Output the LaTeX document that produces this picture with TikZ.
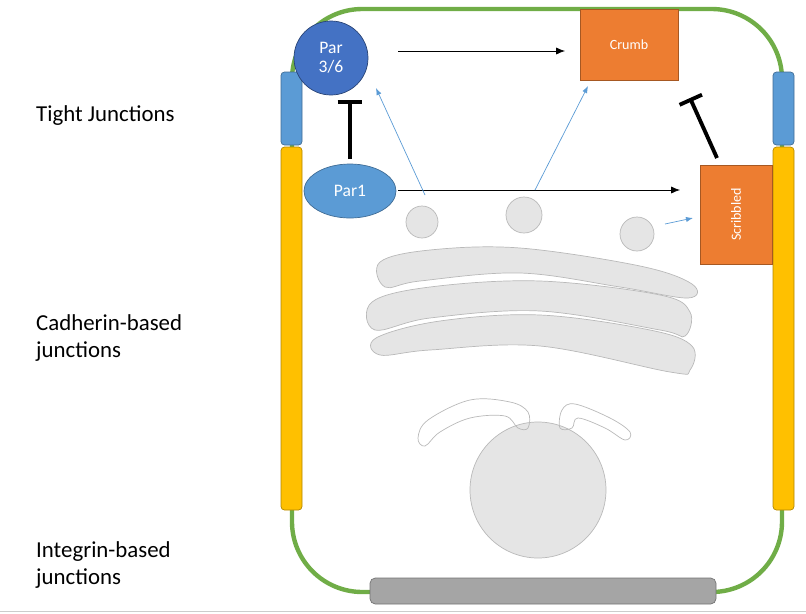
\documentclass[tikz,border=0pt]{standalone}
\usepackage{fontspec}
\setmainfont{Carlito}
\usetikzlibrary{arrows.meta, calc}
\tikzset{
    >={Latex[length=5pt,width=4pt]},
    junction/.style={draw=#1!70!black, fill=#1, thin},
    protein/.style={text=white, font=\fontsize{10}{11}\selectfont, align=center, inner sep=0pt},
    organelle/.style={draw=gray!55, fill=gray!20, thin},
    activate/.style={->, thin},
    inhibit/.style={-{Bar[width=14pt]}, line width=2.2pt},
    side/.style={anchor=west, align=left, font=\fontsize{13}{15.5}\selectfont},
}
\definecolor{cellgreen}{HTML}{70AD47}
\definecolor{tjblue}{HTML}{5B9BD5}
\definecolor{cadyellow}{HTML}{FFC000}
\definecolor{pardark}{HTML}{4472C4}
\definecolor{crumbor}{HTML}{ED7D31}
\definecolor{basegray}{HTML}{A5A5A5}
\definecolor{linkblue}{HTML}{5B9BD5}
\begin{document}
\begin{tikzpicture}[x=0.02cm, y=-0.02cm]
    \useasboundingbox (0,0) rectangle (806,613);
    \draw[gray!40] (0,611) -- (806,611);
    % cell outline
    \draw[cellgreen, line width=2.5pt, rounded corners=40] (292,9) rectangle (782,592);
    \draw[junction=basegray, rounded corners=3] (370,578) rectangle (716,604);
    \foreach \x in {281,773} {
        \draw[junction=tjblue, rounded corners=2] (\x,72) rectangle (\x+21,145);
        \draw[junction=cadyellow, rounded corners=2] (\x,147) rectangle (\x+21,510);
    }
    % organelles
    \draw[organelle] (538,490) circle (68);
    \draw[organelle, fill=none] plot[smooth cycle, tension=0.6] coordinates {(418,438) (428,420) (470,400) (510,402) (528,412) (528,428) (518,428) (505,416) (470,418) (440,432) (425,446)};
    \draw[organelle, fill=none] plot[smooth cycle, tension=0.6] coordinates {(560,428) (562,410) (575,404) (610,418) (630,432) (625,440) (605,428) (578,418) (572,428)};
    \draw[organelle] plot[smooth cycle, tension=0.6] coordinates {(380,262) (430,250) (520,248) (640,266) (692,284) (688,298) (620,287) (520,273) (420,281) (385,287)};
    \draw[organelle] plot[smooth cycle, tension=0.6] coordinates {(372,302) (430,287) (540,281) (660,295) (690,312) (685,336) (660,330) (540,311) (430,318) (375,330)};
    \draw[organelle] plot[smooth cycle, tension=0.6] coordinates {(376,338) (440,321) (540,315) (650,330) (692,346) (690,370) (670,372) (540,346) (430,350) (380,355)};
    \draw[organelle] (422,222) circle (16);
    \draw[organelle] (524,215) circle (18);
    \draw[organelle] (637,234) circle (17);
    % proteins
    \node[protein, draw=pardark!60!black, fill=pardark, circle, minimum size=74*0.02cm] (par36) at (331,58) {};
    \node[protein] at (par36) {Par\\3/6};
    \draw[tjblue!70!black, fill=tjblue] (350,191) ellipse (46 and 27);
    \node[protein] (par1) at (350,191) {Par1};
    \node[protein, draw=crumbor!70!black, fill=crumbor, minimum width=98*0.02cm, minimum height=71*0.02cm, font=\fontsize{8}{9}\selectfont] (crumb) at (629,44.5) {Crumb};
    \node[protein, draw=crumbor!70!black, fill=crumbor, minimum width=72*0.02cm, minimum height=99*0.02cm, font=\fontsize{8}{9}\selectfont] (scrib) at (736,214.5) {};
    \node[protein, rotate=90, font=\fontsize{8}{9}\selectfont] at (scrib) {Scribbled};
    % interactions
    \coordinate (a1) at (398,51);  \coordinate (b1) at (565,51);
    \coordinate (a2) at (398,190); \coordinate (b2) at (680,190);
    \draw[activate] (a1) -- (b1);
    \draw[activate] (a2) -- (b2);
    \coordinate (i1) at (350,159); \coordinate (j1) at (350,100);
    \coordinate (i2) at (717,158); \coordinate (j2) at (690,98);
    \draw[inhibit] (i1) -- (j1);
    \draw[inhibit] (i2) -- (j2);
    \coordinate (v1) at (425,195); \coordinate (w1) at (376,88);
    \coordinate (v2) at (535,190); \coordinate (w2) at (588,86);
    \coordinate (v3) at (665,224); \coordinate (w3) at (693,218);
    \foreach \v/\w in {v1/w1, v2/w2, v3/w3}
        \draw[activate, linkblue, >={Latex[length=4pt,width=3pt]}] (\v) -- (\w);
    % labels
    \node[side] (tj) at (30,116) {Tight Junctions};
    \node[side] (cj) at (30,338) {Cadherin-based\\junctions};
    \node[side] (ij) at (30,565) {Integrin-based\\junctions};
\end{tikzpicture}
\end{document}
